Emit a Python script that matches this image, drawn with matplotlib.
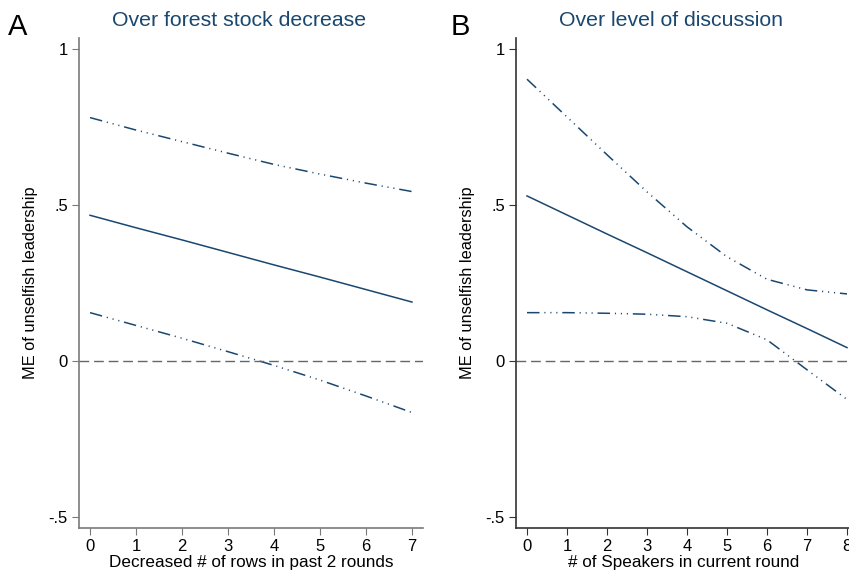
import matplotlib
matplotlib.use("Agg")
import matplotlib.pyplot as plt
import numpy as np

plt.rcParams['font.family'] = ['Liberation Sans', 'DejaVu Sans']
plt.rcParams['lines.scale_dashes'] = False

# Panel A: marginal effect over forest stock decrease
xa = [0, 1, 2, 3, 4, 5, 6, 7]
me_a = [0.467, 0.427, 0.388, 0.348, 0.308, 0.269, 0.229, 0.189]
hi_a = [0.780, 0.740, 0.703, 0.666, 0.630, 0.599, 0.570, 0.543]
lo_a = [0.155, 0.114, 0.073, 0.030, -0.014, -0.061, -0.112, -0.165]

# Panel B: marginal effect over number of speakers
xb = [0, 1, 2, 3, 4, 5, 6, 7, 8]
me_b = [0.529, 0.468, 0.407, 0.347, 0.286, 0.225, 0.164, 0.104, 0.043]
hi_b = [0.903, 0.782, 0.661, 0.542, 0.430, 0.334, 0.262, 0.228, 0.215]
lo_b = [0.155, 0.155, 0.153, 0.150, 0.142, 0.121, 0.068, -0.028, -0.123]

yticks = [-0.5, 0, 0.5, 1]
ylabs = ['-.5', '0', '.5', '1']

navy = '#1a476f'
ci_ls = (0, (9, 3.5, 0.8, 3.5, 0.8, 3.5, 0.8, 3.5))

W, H = 849, 573
fig = plt.figure(figsize=(W / 100, H / 100), dpi=100)


def px_axes(l, r, t, b):
    return fig.add_axes([l / W, 1 - b / H, (r - l) / W, (b - t) / H])


def panel(ax, x, me, hi, lo, xlim, spine_col, xlabel):
    ax.plot(x, me, color=navy, lw=1.1)
    ax.plot(x, hi, color=navy, lw=1.1, ls=ci_ls)
    ax.plot(x, lo, color=navy, lw=1.1, ls=ci_ls)
    ax.axhline(0, color='#666666', lw=1.0, ls=(0, (7, 3.5)))
    ax.set_xlim(*xlim)
    ax.set_ylim(-0.535, 1.035)
    ax.set_yticks(yticks)
    ax.set_yticklabels(ylabs)
    ax.set_xticks(x)
    for s in ['top', 'right']:
        ax.spines[s].set_visible(False)
    for s in ['left', 'bottom']:
        ax.spines[s].set_color(spine_col)
        ax.spines[s].set_linewidth(1.2)
    ax.tick_params(length=5, color=spine_col, labelsize=12, pad=3)
    ax.set_ylabel('ME of unselfish leadership', fontsize=11.8, labelpad=8)
    ax.set_xlabel(xlabel, fontsize=12.3, labelpad=1)


axa = px_axes(79, 423, 38, 528)
panel(axa, xa, me_a, hi_a, lo_a, (-0.24, 7.24), '#7a7a7a',
      'Decreased # of rows in past 2 rounds')

axb = px_axes(516, 851, 38, 528)
panel(axb, xb, me_b, hi_b, lo_b, (-0.275, 8.1), '#333333',
      '# of Speakers in current round')

fig.text(239 / W, 1 - 21 / H, 'Over forest stock decrease', color=navy,
         fontsize=15.3, ha='center', va='center')
fig.text(671 / W, 1 - 21 / H, 'Over level of discussion', color=navy,
         fontsize=15.3, ha='center', va='center')
fig.text(8 / W, 1 - 27 / H, 'A', fontsize=21, ha='left', va='center')
fig.text(451 / W, 1 - 27 / H, 'B', fontsize=21, ha='left', va='center')

fig.savefig('out.png', dpi=100)
